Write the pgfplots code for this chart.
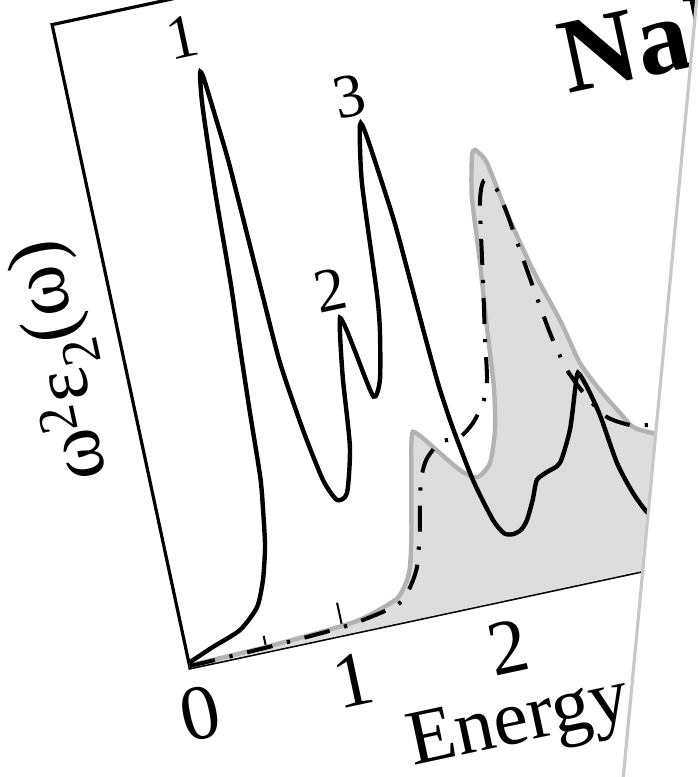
\documentclass[border=0pt]{standalone}
\usepackage{pgfplots}
\pgfplotsset{compat=1.18}
\usepackage{pgfplotstable}
\usepackage{fontspec}
\setmainfont{Liberation Serif}

\definecolor{shade}{RGB}{221,221,221}
\definecolor{shadeline}{RGB}{178,178,178}
\definecolor{fold}{RGB}{200,200,200}

% solid curve
\pgfplotstableread{
E Y
0 0.008
0.171 0.024
0.361 0.0405
0.497 0.069
0.570 0.1075
0.627 0.156
0.660 0.205
0.690 0.26
0.712 0.36
0.737 0.46
0.765 0.56
0.790 0.70
0.825 0.83
0.854 0.881
0.870 0.872
0.895 0.80
0.915 0.732
0.945 0.54
0.965 0.425
1.018 0.318
1.076 0.237
1.136 0.203
1.2075 0.21
1.287 0.2775
1.333 0.379
1.370 0.44
1.397 0.4725
1.420 0.455
1.445 0.42
1.500 0.345
1.563 0.368
1.629 0.442
1.660 0.50
1.713 0.666
1.778 0.753
1.805 0.733
1.860 0.606
1.880 0.52
1.900 0.42
1.920 0.34
1.950 0.275
2.007 0.189
2.078 0.1234
2.130 0.100
2.184 0.096
2.240 0.100
2.289 0.1125
2.350 0.14
2.404 0.169
2.477 0.1775
2.570 0.187
2.676 0.233
2.760 0.29
2.801 0.315
2.840 0.29
2.882 0.245
2.924 0.1685
2.983 0.119
3.050 0.084
3.150 0.06
3.300 0.045
3.500 0.035
}\solid

% dash-dotted curve
\pgfplotstableread{
E Y
0 0.003
0.5 0.006
1.0 0.012
1.253 0.021
1.390 0.030
1.474 0.050
1.544 0.078
1.611 0.132
1.655 0.181
1.700 0.215
1.750 0.236
1.853 0.256
1.984 0.2573
2.083 0.274
2.172 0.3005
2.227 0.333
2.272 0.398
2.335 0.483
2.414 0.593
2.450 0.622
2.481 0.631
2.542 0.613
2.573 0.575
2.622 0.484
2.681 0.383
2.737 0.323
2.825 0.276
2.923 0.240
3.055 0.221
3.198 0.2135
3.350 0.20
3.500 0.18
}\dashdot

% shaded curve
\pgfplotstableread{
E Y
0 0.004
0.5 0.007
1.0 0.014
1.163 0.020
1.376 0.037
1.460 0.060
1.500 0.080
1.545 0.12
1.590 0.17
1.635 0.22
1.670 0.26
1.698 0.28
1.750 0.268
1.803 0.251
1.940 0.208
2.036 0.192
2.135 0.209
2.210 0.2565
2.260 0.32
2.300 0.42
2.340 0.51
2.377 0.61
2.431 0.67
2.459 0.679
2.516 0.656
2.573 0.575
2.659 0.482
2.760 0.399
2.827 0.329
2.915 0.2825
3.009 0.242
3.071 0.217
3.187 0.2017
3.350 0.19
3.500 0.17
}\shaded

\begin{document}
\begin{tikzpicture}
\useasboundingbox (0,0) rectangle (349.5pt,-388.5pt);
\begin{scope}
\clip (0,0) rectangle (349.5pt,-388.5pt);
\begin{scope}[shift={(95pt,-334pt)}, rotate=12.1, transform shape]
\begin{axis}[
  at={(0pt,0pt)}, anchor=south west,
  scale only axis, width=315pt, height=329pt,
  xmin=0, xmax=4, ymin=0, ymax=1,
  clip=false,
  axis line style={line width=1.6pt},
  xtick={0,1,2,3}, xticklabels={0,1,2,3},
  minor xtick={0.5,1.5,2.5,3.5},
  ytick=\empty,
  xtick pos=bottom,
  tick align=inside,
  major tick length=16.5pt, minor tick length=8pt,
  every tick/.style={black, line width=1pt},
  /pgf/number format/assume math mode=true,
  xticklabel style={font=\fontsize{39}{44}\selectfont, inner sep=0pt, yshift=-10pt},
]
\addplot[fill=shade, draw=none, smooth, tension=0.4] table[x=E,y=Y]{\shaded} \closedcycle;
\addplot[draw=shadeline, line width=2.2pt, smooth, tension=0.4] table[x=E,y=Y]{\shaded};
\addplot[black, line width=2pt, smooth, tension=0.4, dash pattern=on 13pt off 7.5pt on 1.6pt off 7.5pt] table[x=E,y=Y]{\dashdot};
\addplot[black, line width=2.2pt, smooth, tension=0.4] table[x=E,y=Y]{\solid};

\node[font=\fontsize{31}{34}\selectfont] at (axis cs:0.79,0.94) {1};
\node[font=\fontsize{31}{34}\selectfont] at (axis cs:1.372,0.517) {2};
\node[font=\fontsize{31}{34}\selectfont] at (axis cs:1.753,0.798) {3};
\node[font=\fontsize{39}{44}\selectfont] at (axis cs:1.97,-0.19) {Energy};
\node[rotate=90, font=\fontsize{39}{44}\selectfont] at (axis cs:-0.3725,0.498)
  {ω\textsuperscript{2}ε\textsubscript{2}(ω)};
\node[anchor=west, font=\bfseries\fontsize{53}{58}\selectfont] at (axis cs:3.07,0.785) {NaF};
\end{axis}
\end{scope}
% the page beyond the fold
\fill[white] (348.5pt,0pt) -- (400pt,0pt) -- (400pt,-400pt) -- (311.5pt,-388.5pt) -- cycle;
\draw[fold, line width=1.6pt] (348.5pt,2pt) -- (311.5pt,-390pt);
\end{scope}
\end{tikzpicture}
\end{document}
